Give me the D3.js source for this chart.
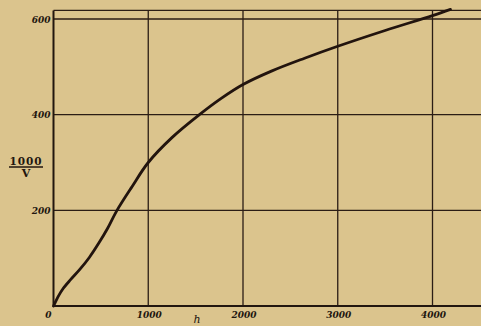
<!DOCTYPE html>
<html>
<head>
<meta charset="utf-8">
<script src="https://cdn.jsdelivr.net/npm/d3@7"></script>
<style>
    body { margin: 0; background: #dbc48d; }
    #chart { width: 481px; height: 326px; }
    .grid { stroke: #2b1d15; stroke-width: 1.3; }
    .axisLine { stroke: #22160f; stroke-width: 2; }
    .tickText { font-family: "DejaVu Serif", serif; font-style: italic; font-weight: bold; font-size: 9px; fill: #22160f; }
    .curve { fill: none; stroke: #22140e; stroke-width: 2.8; stroke-linecap: round; }
</style>
</head>
<body>
<div id="chart"></div>
<script>
// tick values on both axes
var hTicks = [0, 1000, 2000, 3000, 4000];
var vTicks = [0, 200, 400, 600];

// extent of the printed grid (beyond the last tick)
var hExtent = [0, 4520];
var vExtent = [0, 618];

// curve: h against 1000/V
var hValues = [0, 20, 50, 100, 180, 280, 380, 480, 570, 670, 830, 1000, 1250, 1540, 1770, 2000, 2300, 2650, 3000, 3500, 4000, 4190];
var vValues = [0, 8, 20, 36, 55, 77, 102, 132, 162, 200, 250, 300, 352, 400, 434, 463, 491, 518, 543, 576, 607, 620];

function PlateChart(){
    var self = this;
    self.init();
};

PlateChart.prototype.init = function(){
    var self = this;
    self.width = 481;
    self.height = 326;

    self.svg = d3.select("#chart").append("svg")
        .attr("width", self.width)
        .attr("height", self.height);

    self.x = d3.scaleLinear().domain([0, 4000]).range([53.5, 432.5]);
    self.y = d3.scaleLinear().domain([0, 600]).range([306, 19]);
};

PlateChart.prototype.update = function(){
    var self = this;
    var svg = self.svg;

    // vertical grid lines
    svg.selectAll(".vgrid").data(hTicks.slice(1))
        .enter().append("line")
        .attr("class", "grid vgrid")
        .attr("x1", function (d) {return self.x(d)})
        .attr("x2", function (d) {return self.x(d)})
        .attr("y1", self.y(0))
        .attr("y2", self.y(vExtent[1]));

    // horizontal grid lines, plus the top frame line
    svg.selectAll(".hgrid").data(vTicks.slice(1).concat([vExtent[1]]))
        .enter().append("line")
        .attr("class", "grid hgrid")
        .attr("x1", self.x(0))
        .attr("x2", self.x(hExtent[1]))
        .attr("y1", function (d) {return self.y(d)})
        .attr("y2", function (d) {return self.y(d)});

    // axes
    svg.append("line").attr("class", "axisLine")
        .attr("x1", self.x(0)).attr("x2", self.x(0))
        .attr("y1", self.y(0) + 1).attr("y2", self.y(vExtent[1]));
    svg.append("line").attr("class", "axisLine")
        .attr("x1", self.x(0)).attr("x2", self.x(hExtent[1]))
        .attr("y1", self.y(0)).attr("y2", self.y(0));

    // tick labels
    svg.selectAll(".hLabel").data(hTicks)
        .enter().append("text")
        .attr("class", "tickText hLabel")
        .attr("x", function (d) {return d == 0 ? self.x(d) - 5 : self.x(d) + 1})
        .attr("y", self.y(0) + 11.5)
        .attr("text-anchor", "middle")
        .text(function (d) {return d});

    svg.selectAll(".vLabel").data(vTicks.slice(1))
        .enter().append("text")
        .attr("class", "tickText vLabel")
        .attr("x", self.x(0) - 3)
        .attr("y", function (d) {return self.y(d) + 3.5})
        .attr("text-anchor", "end")
        .text(function (d) {return d});

    // axis titles
    svg.append("text")
        .attr("x", 197).attr("y", 323)
        .attr("text-anchor", "middle")
        .style("font-family", "'DejaVu Serif', serif")
        .style("font-style", "italic")
        .style("font-size", "11px")
        .style("fill", "#22160f")
        .text("h");

    var frac = svg.append("g").attr("transform", "translate(26,0)");
    frac.append("text")
        .attr("y", 165).attr("text-anchor", "middle")
        .style("font-family", "'DejaVu Serif', serif")
        .style("font-weight", "bold")
        .style("font-size", "10.5px")
        .style("letter-spacing", "1px")
        .style("fill", "#22160f")
        .text("1000");
    frac.append("line")
        .attr("x1", -17).attr("x2", 17)
        .attr("y1", 167).attr("y2", 167)
        .style("stroke", "#22160f").style("stroke-width", 1.4);
    frac.append("text")
        .attr("y", 177).attr("text-anchor", "middle")
        .style("font-family", "'DejaVu Serif', serif")
        .style("font-weight", "bold")
        .style("font-size", "11px")
        .style("fill", "#22160f")
        .text("V");

    // the curve
    var points = hValues.map(function (h, i) {return [h, vValues[i]]});
    var line = d3.line()
        .x(function (d) {return self.x(d[0])})
        .y(function (d) {return self.y(d[1])})
        .curve(d3.curveCatmullRom.alpha(0.5));

    svg.append("path")
        .datum(points)
        .attr("class", "curve")
        .attr("d", line);
};

var chart = new PlateChart();
chart.update();
</script>
</body>
</html>
